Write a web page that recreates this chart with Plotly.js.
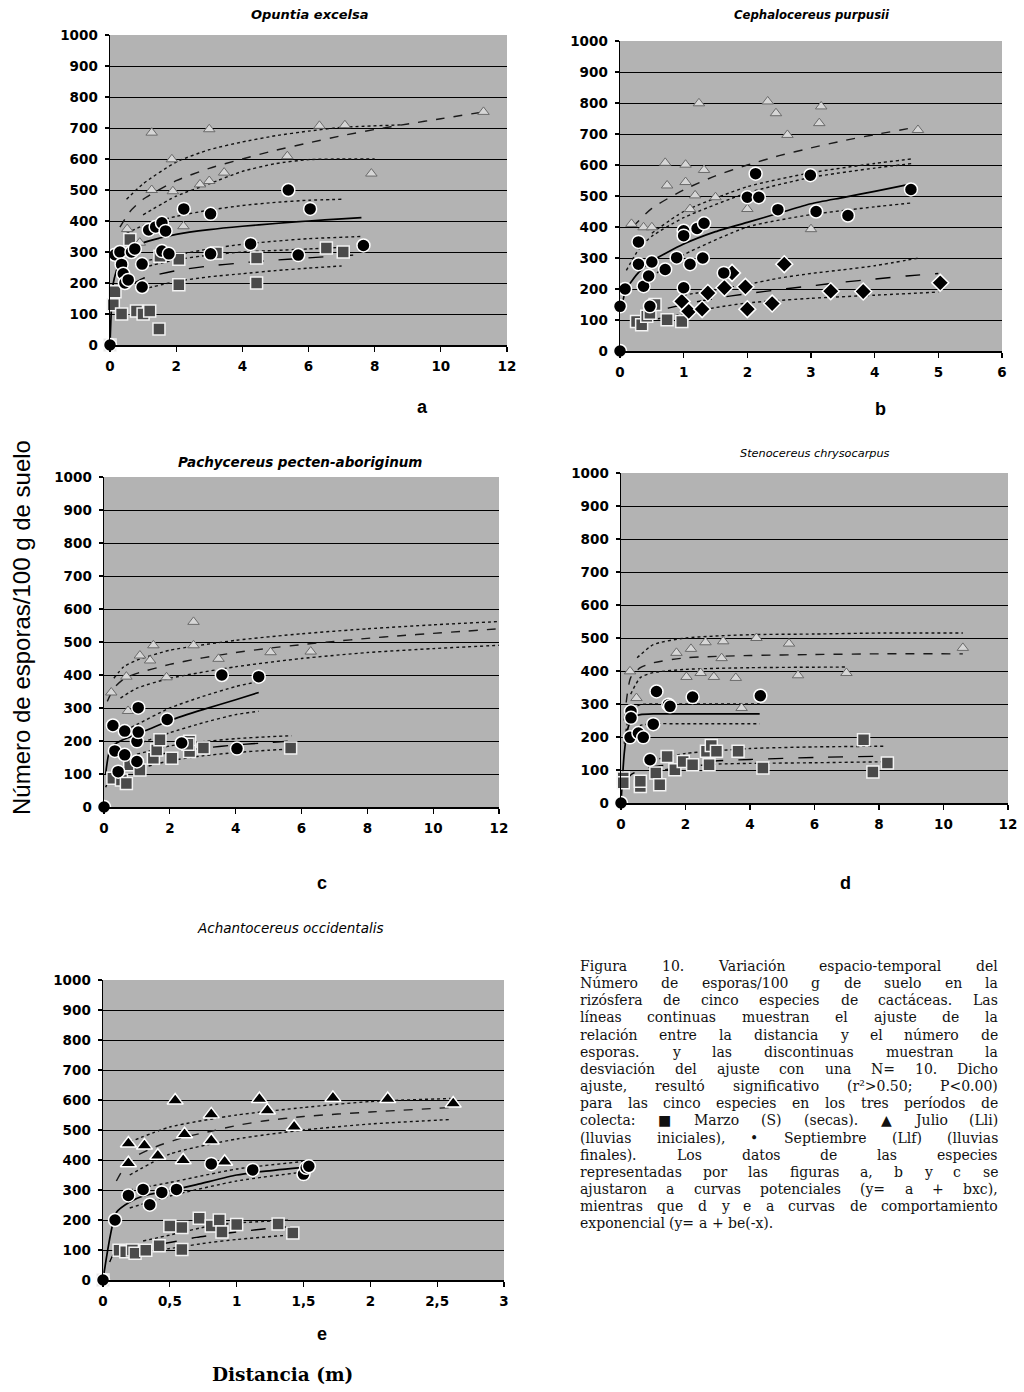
<!DOCTYPE html>
<html><head><meta charset="utf-8">
<script src="https://cdn.plot.ly/plotly-3.0.1.min.js"></script>
<style>body{margin:0;background:#fff}#chart{width:1024px;height:1392px}</style>
</head><body><div id="chart"></div>
<script>
// ---------------- DATA ----------------
// Panel a: Opuntia excelsa
const a_sep_x = [0, 0.15, 0.3, 0.35, 0.4, 0.45, 0.55, 0.65, 0.75, 0.97, 0.97, 1.17, 1.38, 1.57, 1.68, 1.57, 1.78, 2.23, 3.04, 3.04, 4.25, 5.39, 5.69, 6.05, 7.66];
const a_sep_y = [0, 291, 300, 260, 230, 200, 210, 300, 310, 261, 187, 371, 381, 394, 368, 303, 294, 439, 423, 294, 326, 500, 290, 439, 321];
const a_mar_x = [0, 0.1, 0.15, 0.35, 0.6, 0.8, 1.0, 1.2, 1.48, 1.51, 2.08, 2.08, 3.22, 4.43, 4.43, 6.54, 7.05];
const a_mar_y = [0, 130, 172, 100, 340, 110, 100, 110, 52, 286, 277, 194, 297, 281, 200, 313, 300];
const a_jul_x = [0.52, 0.9, 1.26, 1.26, 1.87, 1.9, 2.22, 2.72, 3.0, 3.0, 3.45, 5.36, 6.33, 7.1, 7.9, 11.29];
const a_jul_y = [374, 330, 685, 500, 599, 496, 383, 518, 529, 696, 556, 609, 707, 709, 553, 752];
const a_sepFit_x = [0, 0.1, 0.3, 0.6, 1, 1.5, 2, 3, 4, 5, 6, 7, 7.6];
const a_sepFit_y = [0, 200, 270, 305, 330, 345, 357, 372, 383, 392, 400, 407, 411];
const a_sepUp_x = [0.5, 1, 2, 3, 4, 5, 6, 7];
const a_sepUp_y = [360, 385, 415, 435, 450, 460, 467, 470];
const a_sepLo_x = [1, 2, 3, 4, 5, 6, 7.6];
const a_sepLo_y = [270, 290, 310, 325, 335, 343, 350];
const a_julFit_x = [0.3, 0.6, 1, 2, 3, 4, 5, 6, 7, 8, 9, 10, 11.3];
const a_julFit_y = [380, 430, 470, 530, 570, 600, 628, 652, 675, 695, 713, 730, 752];
const a_julUp_x = [0.5, 1, 2, 3, 4, 5, 6, 7, 8.8];
const a_julUp_y = [470, 520, 590, 630, 655, 675, 690, 702, 710];
const a_julLo_x = [1, 2, 3, 4, 5, 6, 7, 8];
const a_julLo_y = [420, 480, 520, 560, 585, 598, 600, 600];
const a_marFit_x = [0.1, 0.3, 0.6, 1, 2, 3, 4, 5, 6, 7, 7.7];
const a_marFit_y = [120, 160, 190, 215, 240, 255, 265, 274, 281, 288, 292];
const a_marUp_x = [1, 2, 3, 4, 5, 6, 7];
const a_marUp_y = [250, 275, 290, 300, 305, 310, 315];
const a_marLo_x = [1, 2, 3, 4, 5, 6, 7];
const a_marLo_y = [180, 205, 220, 230, 240, 248, 255];

// Panel b: Cephalocereus purpusii
const b_jul_x = [0.18, 0.37, 0.5, 0.74, 0.71, 1.03, 1.03, 1.1, 1.18, 1.24, 1.32, 1.5, 2.0, 2.32, 2.45, 2.63, 3.0, 3.13, 3.16, 4.68];
const b_jul_y = [410, 399, 399, 534, 607, 601, 545, 458, 502, 799, 584, 496, 458, 805, 767, 697, 393, 735, 789, 713];
const b_sep_x = [0, 0.0, 0.08, 0.29, 0.29, 0.37, 0.45, 0.47, 0.5, 0.71, 0.89, 1.0, 1.0, 1.0, 1.1, 1.21, 1.3, 1.32, 1.63, 2.0, 2.13, 2.18, 2.48, 2.99, 3.08, 3.58, 4.57];
const b_sep_y = [0, 144, 200, 352, 280, 209, 242, 144, 287, 263, 301, 388, 372, 204, 280, 395, 300, 412, 252, 496, 572, 496, 456, 567, 450, 437, 521];
const b_dia_x = [0.97, 1.08, 1.29, 1.38, 1.64, 1.76, 1.97, 2.0, 2.39, 2.58, 3.31, 3.82, 5.03];
const b_dia_y = [160, 128, 135, 187, 204, 252, 207, 135, 153, 280, 193, 192, 220];
const b_mar_x = [0.26, 0.34, 0.42, 0.47, 0.55, 0.74, 0.97];
const b_mar_y = [95, 85, 112, 122, 150, 101, 95];
const b_julFit_x = [0.2, 0.5, 1, 1.5, 2, 2.5, 3, 3.5, 4, 4.6];
const b_julFit_y = [400, 460, 520, 565, 600, 630, 655, 678, 698, 720];
const b_julLo_x = [0.5, 1, 2, 3, 4, 4.6];
const b_julLo_y = [380, 450, 530, 575, 605, 620];
const b_sepFit_x = [0.02, 0.1, 0.3, 0.5, 1, 1.5, 2, 2.5, 3, 3.5, 4, 4.6];
const b_sepFit_y = [140, 200, 255, 290, 345, 385, 415, 445, 475, 495, 515, 540];
const b_sepUp_x = [0.1, 0.3, 0.5, 1, 2, 3, 4, 4.6];
const b_sepUp_y = [260, 330, 370, 430, 510, 560, 590, 605];
const b_sepLo_x = [0.5, 1, 2, 3, 4, 4.6];
const b_sepLo_y = [240, 310, 400, 440, 465, 478];
const b_diaFit_x = [0.3, 0.5, 1, 1.5, 2, 2.5, 3, 3.5, 4, 4.5, 5];
const b_diaFit_y = [110, 125, 150, 170, 185, 198, 210, 222, 232, 242, 250];
const b_diaUp_x = [1, 2, 2.5, 3, 3.5, 4, 4.7];
const b_diaUp_y = [180, 215, 235, 250, 262, 275, 300];
const b_diaLo_x = [0.5, 1, 1.5, 2, 3, 4, 5];
const b_diaLo_y = [100, 120, 140, 155, 170, 180, 190];

// Panel c: Pachycereus pecten-aboriginum
const c_sep_x = [0, 0.27, 0.33, 0.43, 0.63, 0.63, 1.0, 1.0, 1.04, 1.04, 1.92, 2.36, 3.58, 4.04, 4.7];
const c_sep_y = [0, 247, 170, 107, 230, 158, 199, 138, 227, 301, 265, 194, 400, 177, 395];
const c_mar_x = [0.27, 0.53, 0.68, 0.78, 1.09, 1.5, 1.6, 1.7, 2.06, 2.6, 2.6, 2.55, 3.02, 5.67];
const c_mar_y = [87, 82, 71, 128, 112, 148, 173, 204, 148, 199, 168, 190, 179, 179];
const c_jul_x = [0.22, 0.68, 0.73, 1.09, 1.4, 1.5, 1.9, 2.72, 2.72, 3.48, 5.06, 6.28];
const c_jul_y = [347, 395, 291, 459, 444, 490, 393, 561, 490, 449, 469, 471];
const c_julFit_x = [0.1, 0.3, 0.6, 1, 2, 3, 4, 5, 6, 7, 8, 9, 10, 11, 12];
const c_julFit_y = [320, 360, 388, 405, 432, 452, 468, 481, 492, 502, 511, 519, 526, 533, 540];
const c_julUp_x = [0.3, 0.6, 1, 2, 4, 6, 8, 10, 12];
const c_julUp_y = [390, 425, 445, 475, 505, 525, 540, 552, 562];
const c_julLo_x = [0.5, 1, 2, 4, 6, 8, 10, 12];
const c_julLo_y = [330, 360, 390, 425, 450, 468, 480, 490];
const c_sepFit_x = [0.05, 0.2, 0.5, 1, 2, 3, 4, 4.7];
const c_sepFit_y = [100, 180, 200, 220, 262, 295, 325, 347];
const c_sepUp_x = [0.5, 1, 2, 3, 4, 4.7];
const c_sepUp_y = [225, 250, 300, 335, 365, 380];
const c_sepLo_x = [1, 2, 3, 4, 4.7];
const c_sepLo_y = [190, 225, 255, 280, 290];
const c_marFit_x = [0.05, 0.2, 0.5, 1, 1.5, 2, 3, 4, 5, 5.7];
const c_marFit_y = [60, 90, 115, 140, 155, 165, 178, 188, 195, 200];
const c_marUp_x = [1, 2, 3, 4, 5, 5.7];
const c_marUp_y = [160, 185, 198, 207, 213, 216];
const c_marLo_x = [1, 2, 3, 4, 5, 5.7];
const c_marLo_y = [115, 140, 155, 165, 172, 176];

// Panel d: Stenocereus chrysocarpus
const d_sep_x = [0, 0.28, 0.31, 0.31, 0.54, 0.69, 0.9, 1.0, 1.1, 1.47, 1.52, 2.22, 4.32];
const d_sep_y = [0, 199, 278, 258, 212, 199, 131, 239, 338, 298, 293, 321, 325];
const d_mar_x = [0.07, 0.07, 0.6, 0.6, 1.08, 1.2, 1.43, 1.67, 1.93, 2.22, 2.65, 2.8, 2.96, 2.73, 3.63, 4.4, 7.52, 7.81, 8.26];
const d_mar_y = [76, 61, 50, 66, 91, 55, 141, 101, 126, 116, 157, 174, 157, 116, 157, 106, 192, 94, 121];
const d_jul_x = [0.28, 0.48, 1.72, 2.03, 2.17, 2.47, 2.62, 2.88, 3.12, 3.17, 3.56, 3.74, 4.2, 5.21, 5.49, 6.99, 10.6];
const d_jul_y = [399, 318, 455, 382, 467, 394, 487, 382, 439, 490, 379, 288, 500, 483, 387, 394, 470];
const d_sepFit_x = [0, 0.1, 0.2, 0.3, 0.4, 0.6, 1, 2, 3, 4.3];
const d_sepFit_y = [0, 150, 220, 250, 262, 268, 270, 270, 270, 270];
const d_sepUp_x = [0.1, 0.3, 0.6, 1, 2, 4.3];
const d_sepUp_y = [180, 280, 298, 300, 300, 300];
const d_sepLo_x = [0.3, 0.6, 1, 2, 4.3];
const d_sepLo_y = [210, 235, 240, 240, 240];
const d_julFit_x = [0.1, 0.3, 0.6, 1, 2, 4, 6, 8, 10.6];
const d_julFit_y = [250, 380, 410, 425, 440, 447, 450, 452, 452];
const d_julUp_x = [0.5, 1, 2, 4, 6, 8, 10.6];
const d_julUp_y = [440, 480, 500, 510, 512, 515, 515];
const d_julLo_x = [0.3, 0.6, 1, 2, 4, 7];
const d_julLo_y = [330, 380, 395, 405, 410, 412];
const d_marFit_x = [0.1, 0.3, 0.6, 1, 2, 3, 4, 6, 8.2];
const d_marFit_y = [60, 85, 100, 110, 120, 128, 132, 138, 142];
const d_marUp_x = [1, 2, 4, 6, 8.2];
const d_marUp_y = [130, 150, 165, 170, 172];
const d_marLo_x = [1, 2, 3, 4, 6, 8.2];
const d_marLo_y = [95, 110, 118, 120, 122, 125];

// Panel e: Achantocereus occidentalis
const e_sep_x = [0, 0.09, 0.19, 0.3, 0.35, 0.44, 0.55, 0.81, 1.12, 1.5, 1.52, 1.54];
const e_sep_y = [0, 200, 282, 302, 251, 292, 302, 387, 367, 353, 374, 379];
const e_jul_x = [0.19, 0.19, 0.31, 0.41, 0.54, 0.6, 0.61, 0.81, 0.81, 0.91, 1.17, 1.23, 1.43, 1.72, 2.13, 2.62];
const e_jul_y = [455, 389, 448, 414, 598, 399, 486, 552, 465, 394, 603, 565, 511, 607, 603, 588];
const e_mar_x = [0, 0.12, 0.17, 0.22, 0.24, 0.32, 0.42, 0.5, 0.59, 0.59, 0.72, 0.81, 0.87, 0.89, 1.0, 1.31, 1.42];
const e_mar_y = [0, 99, 94, 100, 89, 99, 114, 180, 175, 102, 206, 180, 200, 160, 185, 187, 157];
const e_sepFit_x = [0, 0.1, 0.2, 0.3, 0.5, 0.7, 1, 1.2, 1.55];
const e_sepFit_y = [0, 225, 260, 280, 298, 318, 350, 362, 378];
const e_sepUp_x = [0.2, 0.5, 1, 1.5];
const e_sepUp_y = [300, 325, 370, 395];
const e_sepLo_x = [0.2, 0.5, 1, 1.5];
const e_sepLo_y = [240, 280, 330, 360];
const e_julFit_x = [0.1, 0.2, 0.4, 0.6, 0.8, 1, 1.2, 1.5, 2, 2.6];
const e_julFit_y = [330, 400, 445, 475, 495, 515, 530, 545, 560, 575];
const e_julUp_x = [0.2, 0.5, 1, 1.5, 2, 2.6];
const e_julUp_y = [460, 510, 550, 575, 595, 605];
const e_julLo_x = [0.2, 0.5, 1, 1.5, 2, 2.6];
const e_julLo_y = [350, 420, 470, 500, 520, 535];
const e_marFit_x = [0.05, 0.1, 0.3, 0.5, 0.7, 1, 1.2, 1.4];
const e_marFit_y = [60, 100, 112, 125, 142, 160, 170, 178];
const e_marUp_x = [0.3, 0.5, 0.8, 1, 1.4];
const e_marUp_y = [130, 150, 180, 190, 200];
const e_marLo_x = [0.3, 0.5, 0.8, 1, 1.4];
const e_marLo_y = [95, 105, 125, 135, 150];

// Titles / labels
const panelTitles = ['<b><i>Opuntia excelsa</i></b>', '<b><i>Cephalocereus purpusii</i></b>', '<b><i>Pachycereus pecten-aboriginum</i></b>', '<i>Stenocereus chrysocarpus</i>', '<i>Achantocereus occidentalis</i>'];
const panelLetters = ['a', 'b', 'c', 'd', 'e'];
const yTitle = 'Número de esporas/100 g de suelo';
const xTitle = 'Distancia (m)';
const captionLines = [
  'Figura 10. Variación espacio-temporal del',
  'Número de esporas/100 g de suelo en la',
  'rizósfera de cinco especies de cactáceas. Las',
  'líneas continuas muestran el ajuste de la',
  'relación entre la distancia y el número de',
  'esporas. y las discontinuas muestran la',
  'desviación del ajuste con una N= 10. Dicho',
  'ajuste, resultó significativo (r²>0.50; P<0.00)',
  'para las cinco especies en los tres períodos de',
  'colecta: ■ Marzo (S) (secas). ▲ Julio (Lli)',
  '(lluvias iniciales), • Septiembre (Llf) (lluvias',
  'finales). Los datos de las especies',
  'representadas por las figuras a, b y c se',
  'ajustaron a curvas potenciales (y= a + bxc),',
  'mientras que d y e a curvas de comportamiento',
  'exponencial (y= a + be(-x).'
];

// ---------------- LAYOUT ----------------
const W = 1024, H = 1392;
const px = x => x / W, py = y => 1 - y / H;
const SANS = 'Liberation Sans, Arial, sans-serif';
const WIDE = 'DejaVu Sans, Verdana, sans-serif';
const SERIF = 'DejaVu Serif, Liberation Serif, serif';

const panels = [
  {k: '',  box: [110, 507, 35, 345],  xr: [0, 12], dt: 2,   title: [310, 14, 13],  letter: [422, 407],
   pts: {mar: [a_mar_x, a_mar_y], jul: [a_jul_x, a_jul_y], sep: [a_sep_x, a_sep_y]},
   lines: [[a_marFit_x, a_marFit_y, 'fitM'], [a_marUp_x, a_marUp_y, 'dev'], [a_marLo_x, a_marLo_y, 'dev'],
           [a_julFit_x, a_julFit_y, 'fitJ'], [a_julUp_x, a_julUp_y, 'dev'], [a_julLo_x, a_julLo_y, 'dev'],
           [a_sepFit_x, a_sepFit_y, 'fitS'], [a_sepUp_x, a_sepUp_y, 'dev'], [a_sepLo_x, a_sepLo_y, 'dev']]},
  {k: '2', box: [620, 1002, 41, 351], xr: [0, 6], dt: 1,    title: [812, 15, 11.7],  letter: [880, 409],
   pts: {mar: [b_mar_x, b_mar_y], jul: [b_jul_x, b_jul_y], dia: [b_dia_x, b_dia_y], sep: [b_sep_x, b_sep_y]},
   lines: [[b_diaFit_x, b_diaFit_y, 'fitM'], [b_diaUp_x, b_diaUp_y, 'dev'], [b_diaLo_x, b_diaLo_y, 'dev'],
           [b_julFit_x, b_julFit_y, 'fitJ'], [b_julLo_x, b_julLo_y, 'dev'],
           [b_sepFit_x, b_sepFit_y, 'fitS'], [b_sepUp_x, b_sepUp_y, 'dev'], [b_sepLo_x, b_sepLo_y, 'dev']]},
  {k: '3', box: [104, 499, 477, 807], xr: [0, 12], dt: 2,   title: [300, 462, 13.5], letter: [322, 883],
   pts: {mar: [c_mar_x, c_mar_y], jul: [c_jul_x, c_jul_y], sep: [c_sep_x, c_sep_y]},
   lines: [[c_marFit_x, c_marFit_y, 'fitM'], [c_marUp_x, c_marUp_y, 'dev'], [c_marLo_x, c_marLo_y, 'dev'],
           [c_julFit_x, c_julFit_y, 'fitJ'], [c_julUp_x, c_julUp_y, 'dev'], [c_julLo_x, c_julLo_y, 'dev'],
           [c_sepFit_x, c_sepFit_y, 'fitS'], [c_sepUp_x, c_sepUp_y, 'dev'], [c_sepLo_x, c_sepLo_y, 'dev']]},
  {k: '4', box: [621, 1008, 473, 803], xr: [0, 12], dt: 2,  title: [815, 453, 11.3], letter: [845, 883],
   pts: {mar: [d_mar_x, d_mar_y], jul: [d_jul_x, d_jul_y], sep: [d_sep_x, d_sep_y]},
   lines: [[d_marFit_x, d_marFit_y, 'fitM'], [d_marUp_x, d_marUp_y, 'dev'], [d_marLo_x, d_marLo_y, 'dev'],
           [d_julFit_x, d_julFit_y, 'fitJ'], [d_julUp_x, d_julUp_y, 'dev'], [d_julLo_x, d_julLo_y, 'dev'],
           [d_sepFit_x, d_sepFit_y, 'fitS'], [d_sepUp_x, d_sepUp_y, 'dev'], [d_sepLo_x, d_sepLo_y, 'dev']]},
  {k: '5', box: [103, 504, 980, 1280], xr: [0, 3], dt: 0.5, title: [290, 928, 13.5], letter: [322, 1334],
   pts: {mar: [e_mar_x, e_mar_y], julE: [e_jul_x, e_jul_y], sep: [e_sep_x, e_sep_y]},
   lines: [[e_marFit_x, e_marFit_y, 'fitM'], [e_marUp_x, e_marUp_y, 'dev'], [e_marLo_x, e_marLo_y, 'dev'],
           [e_julFit_x, e_julFit_y, 'fitJ'], [e_julUp_x, e_julUp_y, 'dev'], [e_julLo_x, e_julLo_y, 'dev'],
           [e_sepFit_x, e_sepFit_y, 'fitS'], [e_sepUp_x, e_sepUp_y, 'dev'], [e_sepLo_x, e_sepLo_y, 'dev']]}
];

const lineStyles = {
  fitS: {color: '#000', width: 1.7, dash: 'solid'},
  fitJ: {color: '#1a1a1a', width: 1.4, dash: 'dash'},
  fitM: {color: '#000', width: 1.4, dash: 'longdash'},
  dev:  {color: '#111', width: 1.4, dash: 'dot'}
};
const markerStyles = {
  mar:  {symbol: 'square', size: 12, color: '#4a4a4a', line: {color: '#f2f2f2', width: 1.5}},
  jul:  {symbol: 'triangle-up', size: 10, color: '#d6d6d6', line: {color: '#6a6a6a', width: 1}},
  julE: {symbol: 'triangle-up', size: 14, color: '#000', line: {color: '#fff', width: 1.5}},
  dia:  {symbol: 'diamond', size: 13, color: '#000', line: {color: '#fff', width: 1.5}},
  sep:  {symbol: 'circle', size: 13, color: '#000', line: {color: '#fff', width: 1.5}}
};

const traces = [];
const layout = {
  width: W, height: H, margin: {l: 0, r: 0, t: 0, b: 0},
  paper_bgcolor: '#fff', plot_bgcolor: '#b3b3b3', showlegend: false,
  separators: ',.', annotations: []
};
const tickFont = {family: WIDE, size: 13.5, color: '#000', weight: 'bold'};

panels.forEach((p, i) => {
  const xa = 'x' + p.k, ya = 'y' + p.k;
  p.lines.forEach(l => {
    const s = lineStyles[l[2]];
    traces.push({x: l[0], y: l[1], xaxis: xa, yaxis: ya, mode: 'lines', hoverinfo: 'skip',
      line: {color: s.color, width: s.width, dash: s.dash, shape: 'spline', smoothing: 0.6}});
  });
  Object.keys(p.pts).forEach(key => {
    traces.push({x: p.pts[key][0], y: p.pts[key][1], xaxis: xa, yaxis: ya, mode: 'markers',
      cliponaxis: false, marker: markerStyles[key]});
  });
  const [x0, x1, y0, y1] = p.box;
  layout['xaxis' + p.k] = {
    domain: [px(x0), px(x1)], anchor: ya, range: p.xr, dtick: p.dt, tick0: 0,
    showgrid: false, zeroline: false, showline: true, linecolor: '#000', linewidth: 1.5,
    ticks: 'outside', ticklen: 5, tickcolor: '#000', tickwidth: 1.2, ticklabelstandoff: 3,
    tickfont: tickFont
  };
  layout['yaxis' + p.k] = {
    domain: [py(y1), py(y0)], anchor: xa, range: [0, 1000], dtick: 100, tick0: 0,
    showgrid: true, gridcolor: '#000', gridwidth: 1, zeroline: false,
    showline: true, linecolor: '#000', linewidth: 1.5,
    ticks: 'outside', ticklen: 4, tickcolor: '#000', tickwidth: 1.2, ticklabelstandoff: 4,
    tickfont: tickFont
  };
  layout.annotations.push({xref: 'paper', yref: 'paper', x: px(p.title[0]), y: py(p.title[1]),
    xanchor: 'center', yanchor: 'middle', showarrow: false, text: panelTitles[i],
    font: {family: WIDE, size: p.title[2], color: '#000'}});
  layout.annotations.push({xref: 'paper', yref: 'paper', x: px(p.letter[0]), y: py(p.letter[1]),
    xanchor: 'center', yanchor: 'middle', showarrow: false, text: '<b>' + panelLetters[i] + '</b>',
    font: {family: SANS, size: 18, color: '#000'}});
});

layout.annotations.push({xref: 'paper', yref: 'paper', x: px(22), y: py(628), textangle: -90,
  xanchor: 'center', yanchor: 'middle', showarrow: false, text: yTitle,
  font: {family: SANS, size: 24, color: '#000'}});
layout.annotations.push({xref: 'paper', yref: 'paper', x: px(282), y: py(1374),
  xanchor: 'center', yanchor: 'middle', showarrow: false, text: '<b>' + xTitle + '</b>',
  font: {family: SERIF, size: 18.5, color: '#000'}});

// Caption, justified word by word
const CAP_X0 = 580, CAP_X1 = 998, CAP_Y0 = 966, CAP_DY = 17.15, CAP_FS = 14;
const esc = s => s.replace(/&/g, '&amp;').replace(/</g, '&lt;').replace(/>/g, '&gt;');

function build() {
  const ctx = document.createElement('canvas').getContext('2d');
  ctx.font = CAP_FS + 'px "DejaVu Serif"';
  const spaceW = ctx.measureText(' ').width;
  captionLines.forEach((line, i) => {
    const words = line.split(' ');
    const widths = words.map(w => ctx.measureText(w).width);
    const total = widths.reduce((s, v) => s + v, 0);
    const last = i === captionLines.length - 1;
    let gap = last ? spaceW : (CAP_X1 - CAP_X0 - total) / (words.length - 1);
    if (gap < spaceW * 0.6) gap = spaceW * 0.6;
    let x = CAP_X0;
    words.forEach((w, j) => {
      layout.annotations.push({xref: 'paper', yref: 'paper', x: px(x), y: py(CAP_Y0 + i * CAP_DY),
        xanchor: 'left', yanchor: 'middle', showarrow: false, borderpad: 0, borderwidth: 0,
        text: esc(w), font: {family: SERIF, size: CAP_FS, color: '#111'}});
      x += widths[j] + gap;
    });
  });
  Plotly.newPlot('chart', traces, layout, {staticPlot: true});
}
if (document.fonts && document.fonts.load) {
  document.fonts.load(CAP_FS + 'px "DejaVu Serif"').then(build, build);
} else { build(); }
</script></body></html>
